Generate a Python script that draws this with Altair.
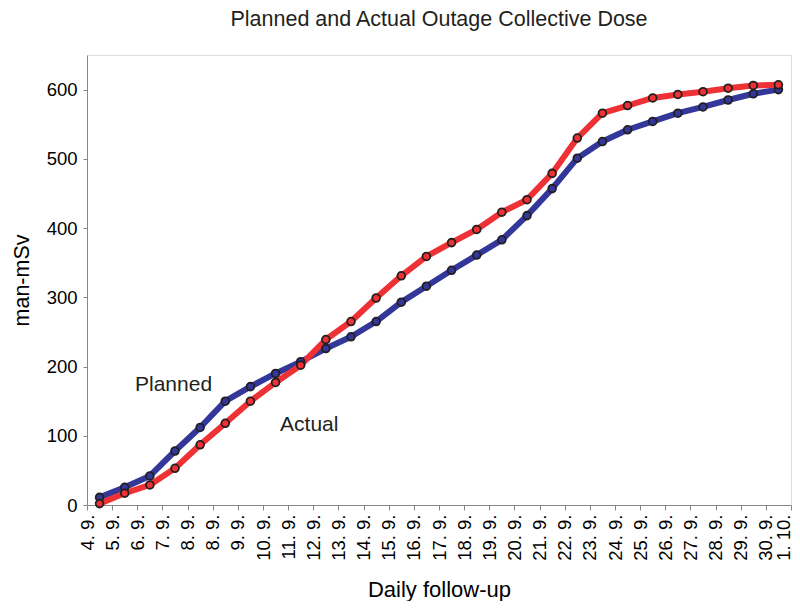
import altair as alt
import pandas as pd

tick_labels = ["4. 9.", "5. 9.", "6. 9.", "7. 9.", "8. 9.", "8. 9.", "9. 9.", "10. 9.",
               "11. 9.", "12. 9.", "13. 9.", "14. 9.", "15. 9.", "16. 9.", "17. 9.",
               "18. 9.", "19. 9.", "20. 9.", "21. 9.", "22. 9.", "23. 9.", "24. 9.",
               "25. 9.", "26. 9.", "27. 9.", "28. 9.", "29. 9.", "30. 9.", "1. 10."]

planned = [11, 25.5, 42, 78, 112, 150, 171, 190, 207, 226, 243, 265, 293, 316,
           339, 361, 383, 418, 457, 501, 525, 542, 554, 566, 575, 585, 594, 600]
actual = [2, 17, 29, 53, 87, 118, 150, 177, 202, 239, 265, 299, 331, 359,
          379, 398, 423, 441, 479, 530, 566, 577, 588, 593, 597, 602, 606, 607]

series_names = ["Planned", "Actual"]
series_colors = ["#34379a", "#ee3134"]

ann_text = ["Planned", "Actual"]
ann_x = [1.91, 7.68]
ann_y = [173, 115]

rows = []
for name, vals in zip(series_names, [planned, actual]):
    for i, v in enumerate(vals):
        rows.append({"pos": i + 0.5, "value": v, "series": name})
df = pd.DataFrame(rows)
ann = pd.DataFrame({"text": ann_text, "pos": ann_x, "value": ann_y})

FONT = "Liberation Sans"
TXT = "#231f20"

n_last = len(tick_labels) - 1
label_js = "[" + ",".join("'" + t + "'" for t in tick_labels) + "][datum.value]"

x = alt.X("pos:Q", scale=alt.Scale(domain=[0, n_last], nice=False, zero=False),
          axis=alt.Axis(values=list(range(len(tick_labels))), labelExpr=label_js,
                        labelAngle=-90, labelFontSize=18.5, labelPadding=4, tickSize=5,
                        labelOffset={"condition": {"test": f"datum.value == {n_last}", "value": -8}, "value": 0},
                        title="Daily follow-up", titleFontSize=22, titlePadding=19,
                        titleFontWeight="normal", grid=False, labelOverlap=False,
                        labelBound=False, labelFlush=False))
y = alt.Y("value:Q", scale=alt.Scale(domain=[0, 650], nice=False),
          axis=alt.Axis(values=[0, 100, 200, 300, 400, 500, 600], labelFontSize=18.5,
                        labelPadding=6, tickSize=4, title="man-mSv", titleFontSize=21.5,
                        titlePadding=13, titleFontWeight="normal", grid=False,
                        labelOverlap=False))
color = alt.Color("series:N", scale=alt.Scale(domain=series_names, range=series_colors), legend=None)

base = alt.Chart(df)
lines = base.mark_line(strokeWidth=6, strokeJoin="round").encode(
    x=x, y=y, color=color, order=alt.Order("pos:Q"),
    detail="series:N")
points = base.mark_point(filled=True, size=60, stroke=TXT, strokeWidth=1.8, opacity=1).encode(
    x=x, y=y, fill=alt.Fill("series:N", scale=alt.Scale(domain=series_names, range=series_colors), legend=None))
texts = alt.Chart(ann).mark_text(align="left", baseline="middle", fontSize=21, font=FONT, color=TXT).encode(
    x=x, y=y, text="text:N")

chart = alt.layer(lines, points, texts).properties(
    width=704, height=450,
    title=alt.TitleParams("Planned and Actual Outage Collective Dose", fontSize=21.5,
                          fontWeight="normal", font=FONT, color=TXT, offset=25),
    autosize=alt.AutoSizeParams(type="none"),
    padding={"left": 79, "top": 47, "right": 1, "bottom": 96},
).configure_view(stroke=TXT, strokeWidth=1.5).configure_axis(
    labelFont=FONT, titleFont=FONT, labelColor=TXT, titleColor=TXT,
    domainColor=TXT, domainWidth=2, tickColor=TXT, tickWidth=1.2
).configure(background="white")

chart.save("out.html", embed_options={"renderer": "svg", "actions": False})
